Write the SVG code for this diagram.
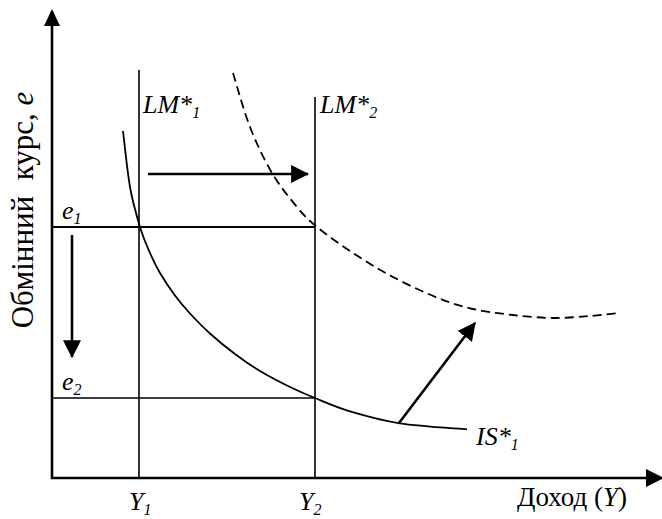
<svg xmlns="http://www.w3.org/2000/svg" width="662" height="519" viewBox="0 0 662 519">
<style>
.ax{stroke:#000;stroke-width:2.6;fill:none}
.ln{stroke:#000;stroke-width:1.6;fill:none}
.cv{stroke:#000;stroke-width:1.8;fill:none}
.dash{stroke:#000;stroke-width:1.8;fill:none;stroke-dasharray:9 5}
.arr{stroke:#000;stroke-width:2.6;fill:none}
text{font-family:"Liberation Serif","Times New Roman",serif;fill:#000}
.it{font-style:italic;font-size:26px}
.sub{font-size:16px}
</style>
<defs>
<marker id="ah" markerUnits="userSpaceOnUse" markerWidth="18" markerHeight="18" viewBox="0 0 16 16" refX="15" refY="8" orient="auto">
<path d="M0,0 L16,8 L0,16 Z" fill="#000"/>
</marker>
</defs>
<g id="axes">
<line class="ax" x1="52" y1="479" x2="52" y2="24"/>
<path d="M52,9 L44,26 L60,26 Z" fill="#000"/>
<line class="ax" x1="51" y1="478" x2="648" y2="478"/>
<path d="M664,478 L646,469 L646,487 Z" fill="#000"/>
</g>
<g id="connectors">
<line class="ln" x1="139" y1="70" x2="139" y2="478"/>
<line class="ln" x1="315" y1="97" x2="315" y2="478"/>
<line class="ax" style="stroke-width:2.2" x1="52" y1="227" x2="315" y2="227"/>
<line class="ln" x1="52" y1="398" x2="315" y2="398"/>
<path class="cv" d="M123,131 C124.2,140.3 127.2,171 130,187 C132.8,203 136.7,216 140,227 C143.3,238 146.7,245.3 150,253 C153.3,260.7 155.8,265.9 160,273 C164.2,280.1 170,288.8 175,295.5 C180,302.3 184.2,307.2 190,313.5 C195.8,319.8 202.5,326.8 210,333.5 C217.5,340.3 226.7,347.8 235,354 C243.3,360.3 250.8,365.5 260,371 C269.2,376.5 280.8,382.5 290,387 C299.2,391.5 305,394 315,398 C325,402.1 335.8,407.1 350,411.3 C364.2,415.5 380.5,420.3 400,423.3 C419.5,426.3 455.8,428.3 467,429.3"/>
<path class="dash" d="M233,73 C235.8,82 243.5,110.3 250,127 C256.5,143.7 264.2,159.7 272,173 C279.8,186.3 289.5,198 297,207 C304.5,216 307.7,219.3 317,227 C326.3,234.7 340.3,244.7 353,253 C365.7,261.3 378.8,269.5 393,277 C407.2,284.5 424.7,292.7 438,298 C451.3,303.3 460.5,306.2 473,309 C485.5,311.8 499.7,313.5 513,315 C526.3,316.5 540.2,317.8 553,318 C565.8,318.2 578.8,316.8 590,316 C601.2,315.2 615,313.5 620,313"/>
<line class="arr" x1="148" y1="174" x2="308" y2="174" marker-end="url(#ah)"/>
<line class="arr" x1="72" y1="235" x2="72" y2="357" marker-end="url(#ah)"/>
<line class="arr" x1="399" y1="423" x2="475" y2="323" marker-end="url(#ah)"/>
</g>
<g id="labels" font-family="Liberation Serif, Times New Roman, serif">
<text class="it" x="143" y="113">LM*<tspan class="sub" dy="5">1</tspan></text>
<text class="it" x="320" y="113">LM*<tspan class="sub" dy="5">2</tspan></text>
<text class="it" x="62" y="219">e<tspan class="sub" dy="5">1</tspan></text>
<text class="it" x="62" y="390">e<tspan class="sub" dy="5">2</tspan></text>
<text class="it" x="129" y="510">Y<tspan class="sub" dy="5">1</tspan></text>
<text class="it" x="299" y="510">Y<tspan class="sub" dy="5">2</tspan></text>
<text class="it" x="476" y="445">IS*<tspan class="sub" dy="5">1</tspan></text>
<text x="517" y="506" font-size="27">Доход (<tspan font-style="italic">Y</tspan>)</text>
<text transform="translate(33,210) rotate(-90)" text-anchor="middle" font-size="31" xml:space="preserve" style="white-space:pre">Обмінний  курс, <tspan font-style="italic">e</tspan></text>
</g>
</svg>
